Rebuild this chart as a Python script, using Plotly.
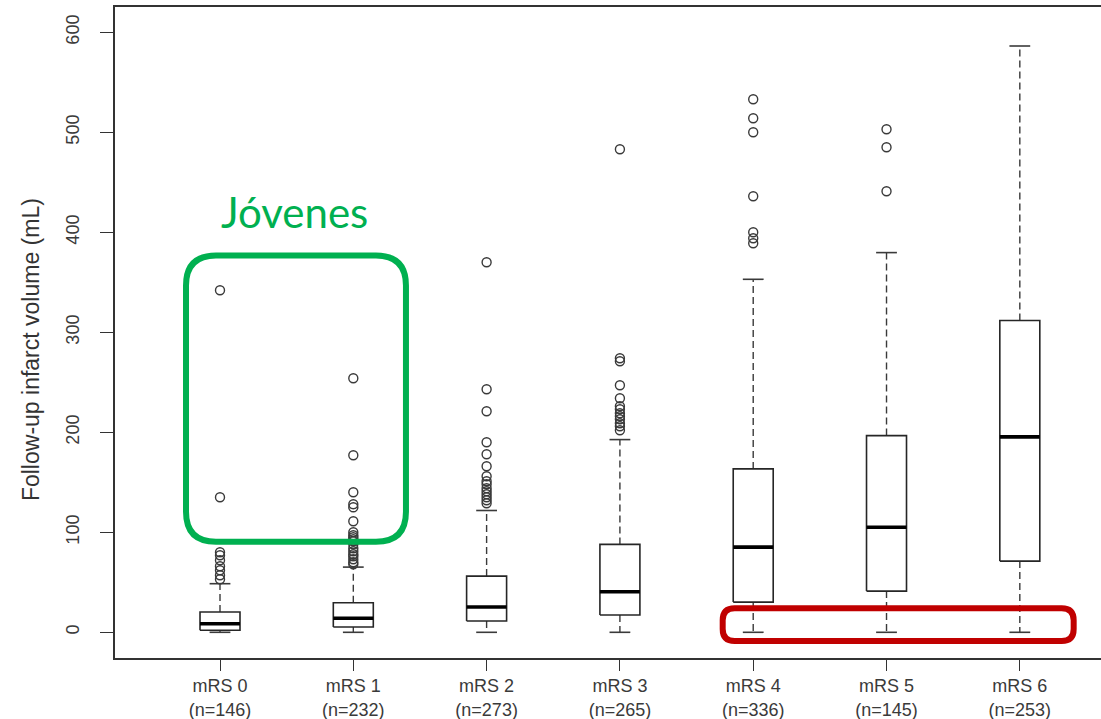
import plotly.graph_objects as go

# ---------------- data ----------------
categories = ["mRS 0", "mRS 1", "mRS 2", "mRS 3", "mRS 4", "mRS 5", "mRS 6"]
n_counts = [146, 232, 273, 265, 336, 145, 253]
q1 = [2.0, 5.3, 11.3, 17.3, 30.2, 41.2, 71.2]
median = [8.5, 14.0, 25.3, 40.6, 85.2, 105.1, 195.4]
q3 = [20.3, 29.6, 56.2, 87.9, 163.4, 196.7, 311.8]
lower_whisker = [0, 0, 0, 0, 0, 0, 0]
upper_whisker = [48.6, 65.2, 121.8, 192.7, 353.0, 379.7, 586.3]
outliers = [
    [342, 135, 80, 77, 72, 66, 62, 57, 53],
    [254, 177, 140, 128, 125, 111, 100, 97, 95, 93, 91, 88, 84, 81, 78, 76, 73, 70, 68],
    [370, 243, 221, 190, 178, 166, 156, 151, 148, 144, 141, 138, 135, 132, 129],
    [483, 274, 271, 247, 234, 226, 223, 219, 216, 213, 209, 206, 202],
    [533, 514, 500, 436, 400, 394, 389],
    [503, 485, 441],
    [],
]
y_ticks = [0, 100, 200, 300, 400, 500, 600]
y_title = "Follow-up infarct volume (mL)"
note_text = "Jóvenes"

# ---------------- styling ----------------
HALF = 0.15      # half box width (x units)
CAP = 0.078      # half cap width
INK = "#262626"
GRAY = "#3a3a3a"
FONT = "Liberation Sans, Arial, sans-serif"

positions = list(range(1, len(categories) + 1))

box_x, box_y = [], []
med_x, med_y = [], []
wh_x, wh_y = [], []
cap_x, cap_y = [], []
out_x, out_y = [], []
for i, p in enumerate(positions):
    box_x += [p - HALF, p + HALF, p + HALF, p - HALF, p - HALF, None]
    box_y += [q1[i], q1[i], q3[i], q3[i], q1[i], None]
    med_x += [p - HALF, p + HALF, None]
    med_y += [median[i], median[i], None]
    wh_x += [p, p, None, p, p, None]
    wh_y += [q3[i], upper_whisker[i], None, q1[i], lower_whisker[i], None]
    cap_x += [p - CAP, p + CAP, None, p - CAP, p + CAP, None]
    cap_y += [upper_whisker[i], upper_whisker[i], None, lower_whisker[i], lower_whisker[i], None]
    out_x += [p] * len(outliers[i])
    out_y += outliers[i]

fig = go.Figure()
fig.add_trace(go.Scatter(x=wh_x, y=wh_y, mode="lines",
                         line=dict(color=GRAY, width=1.4, dash="7px,4px"),
                         hoverinfo="skip", showlegend=False))
fig.add_trace(go.Scatter(x=cap_x, y=cap_y, mode="lines",
                         line=dict(color=GRAY, width=1.6),
                         hoverinfo="skip", showlegend=False))
fig.add_trace(go.Scatter(x=box_x, y=box_y, mode="lines",
                         line=dict(color=INK, width=1.6),
                         fill="toself", fillcolor="white",
                         hoverinfo="skip", showlegend=False))
fig.add_trace(go.Scatter(x=med_x, y=med_y, mode="lines",
                         line=dict(color="#000000", width=3.6),
                         hoverinfo="skip", showlegend=False))
fig.add_trace(go.Scatter(x=out_x, y=out_y, mode="markers",
                         marker=dict(symbol="circle-open", size=9,
                                     line=dict(color=GRAY, width=1.4), color=GRAY),
                         hoverinfo="skip", showlegend=False))


def rounded_path(x0, x1, y0, y1, rx, ry):
    return (f"M {x0+rx},{y1} L {x1-rx},{y1} Q {x1},{y1} {x1},{y1-ry} "
            f"L {x1},{y0+ry} Q {x1},{y0} {x1-rx},{y0} "
            f"L {x0+rx},{y0} Q {x0},{y0} {x0},{y0+ry} "
            f"L {x0},{y1-ry} Q {x0},{y1} {x0+rx},{y1} Z")


fig.add_shape(type="path", xref="x", yref="y",
              path=rounded_path(0.745, 2.395, 90.6, 376.8, 0.225, 30),
              line=dict(color="#00B050", width=6))
fig.add_shape(type="path", xref="x", yref="y",
              path=rounded_path(4.771, 7.404, -8.7, 24.0, 0.09, 12),
              line=dict(color="#C00000", width=6))

fig.add_annotation(x=1.56, y=420, xref="x", yref="y", text=note_text,
                   showarrow=False, xanchor="center", yanchor="middle",
                   font=dict(family="Lato, Carlito, sans-serif", size=42, color="#00B050"))

fig.add_annotation(x=0, xref="paper", xshift=-84, y=0.473, yref="paper",
                   text=y_title, textangle=-90, showarrow=False,
                   xanchor="center", yanchor="middle",
                   font=dict(family=FONT, size=23, color="#333333"))

fig.update_layout(
    width=1101, height=719,
    margin=dict(l=115, r=0, t=7, b=61),
    paper_bgcolor="white", plot_bgcolor="white",
    font=dict(family=FONT, color="#3a3a3a"),
    showlegend=False,
)
fig.update_xaxes(
    range=[0.2123, 7.609], tickmode="array", tickvals=positions,
    ticktext=[f"{c}<br>(n={n})" for c, n in zip(categories, n_counts)],
    ticks="outside", ticklen=11, tickwidth=1.4, tickcolor="#333333",
    showline=True, linecolor="#333333", linewidth=1.6, mirror=True,
    showgrid=False, zeroline=False, tickfont=dict(size=18, color="#3a3a3a"),
)
fig.update_yaxes(
    range=[-25.7, 625.3], tickmode="array", tickvals=y_ticks,
    ticktext=[str(v) for v in y_ticks],
    ticks="outside", ticklen=13, tickwidth=1.4, tickcolor="#333333",
    showline=True, linecolor="#333333", linewidth=1.6, mirror=False,
    showgrid=False, zeroline=False, tickangle=-90,
    tickfont=dict(size=18, color="#3a3a3a"), ticklabelstandoff=14,
)

fig.write_html("out.html")
